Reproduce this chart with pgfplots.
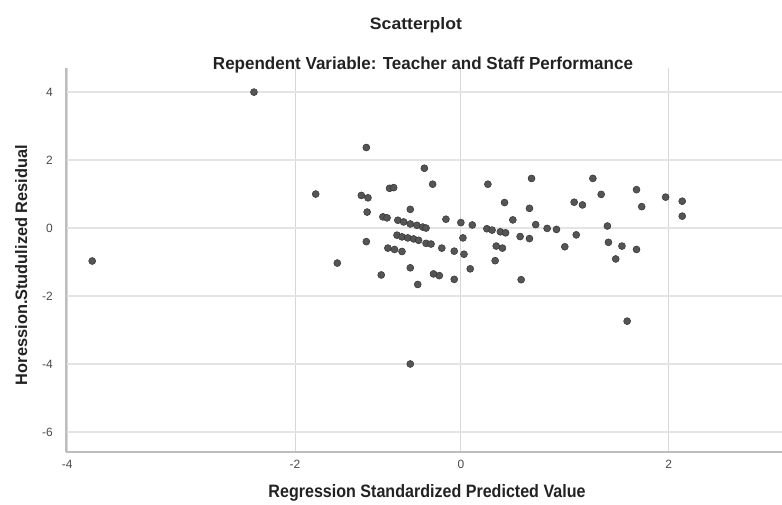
\documentclass[border=0pt]{standalone}
\usepackage{fontspec}
\setmainfont{Liberation Sans}
\usepackage{graphicx}
\usepackage{pgfplots}
\pgfplotsset{compat=1.18}
\definecolor{gridh}{HTML}{E4E4E4}
\definecolor{gridv}{HTML}{D6D6D6}
\definecolor{axisc}{HTML}{BDBDBD}
\definecolor{dotfill}{HTML}{555555}
\definecolor{dotdraw}{HTML}{333333}
\definecolor{ticklab}{HTML}{4A4A4A}
\definecolor{titlec}{HTML}{222222}
\begin{document}
\begin{tikzpicture}[x=1pt,y=1pt]
\useasboundingbox (0,0) rectangle (782,504);
\begin{axis}[
  at={(66pt,52pt)}, anchor=south west,
  scale only axis, width=716pt, height=384pt,
  x coord trafo/.code={\pgfmathparse{1.14*min(#1+2,0)+0.83*max(min(#1,0),-2)+1.04*max(#1,0)}},
  xmin=-4.01, xmax=3.09, ymin=-6.59, ymax=4.71,
  xtick={-4,-2,0,2}, xticklabels={-4,-2,0,2},
  ytick={-6,-4,-2,0,2,4}, yticklabels={-6,-4,-2,0,2,4},
  axis lines*=left,
  axis line style={color=axisc, line width=1.4pt},
  major tick length=0pt,
  grid=major,
  x grid style={color=gridv, line width=0.8pt},
  y grid style={color=gridh, line width=1.6pt},
  tick label style={font=\fontsize{12}{12}\selectfont, text=ticklab, inner sep=0pt},
  yticklabel shift=13pt,
  xticklabel shift=8pt,
]
\addplot[only marks, mark=*, mark size=3.5pt, mark options={fill=dotfill, draw=dotdraw, line width=0.5pt}] table {
x y
-3.78 -0.97
-2.36 4.00
-1.75 1.00
-1.14 2.37
-0.44 1.76
-0.34 1.29
-0.86 1.17
-0.81 1.19
-1.20 0.96
-1.12 0.89
-1.13 0.47
-0.61 0.55
-0.18 0.26
0.00 0.16
0.11 0.09
-0.94 0.33
-0.89 0.30
-0.76 0.23
-0.69 0.18
-0.61 0.12
-0.53 0.08
-0.46 0.03
-0.42 0.00
-0.77 -0.21
-0.71 -0.26
-0.64 -0.29
-0.57 -0.32
-0.51 -0.36
-0.42 -0.45
-0.36 -0.47
-0.23 -0.59
-0.08 -0.68
0.03 -0.77
0.02 -0.29
-0.88 -0.59
-0.80 -0.63
-0.71 -0.69
-1.14 -0.40
-1.49 -1.03
-0.61 -1.17
-0.96 -1.38
-0.33 -1.35
-0.26 -1.40
-0.52 -1.66
-0.08 -1.51
0.09 -1.20
0.26 1.29
0.68 1.46
0.42 0.75
0.66 0.58
0.50 0.24
0.72 0.10
0.83 -0.01
0.92 -0.04
0.25 -0.02
0.30 -0.06
0.38 -0.11
0.43 -0.14
0.57 -0.25
0.66 -0.31
0.34 -0.53
0.40 -0.59
0.33 -0.96
0.58 -1.52
1.27 1.46
1.35 0.99
1.09 0.76
1.17 0.68
1.69 1.13
1.74 0.63
1.97 0.91
2.13 0.79
2.13 0.35
1.41 0.06
1.11 -0.20
1.00 -0.55
1.42 -0.42
1.55 -0.53
1.69 -0.63
1.49 -0.91
1.60 -2.74
-0.61 -4.00
};
\end{axis}
\node[anchor=base, inner sep=0pt, text=titlec] at (416,474) {\resizebox{92pt}{12pt}{\bfseries Scatterplot}};
\node[anchor=base, inner sep=0pt, text=titlec] at (423,434.5) {\resizebox{420pt}{12.6pt}{\bfseries Rependent Variable: Teacher and Staff Performance}};
\node[anchor=base, inner sep=0pt, text=titlec] at (427,7) {\resizebox{317pt}{13pt}{\bfseries Regression Standardized Predicted Value}};
\node[anchor=base, inner sep=0pt, rotate=90, text=titlec] at (27,239) {\resizebox{240pt}{12pt}{\bfseries Horession.Studulized Residual}};
\end{tikzpicture}
\end{document}
